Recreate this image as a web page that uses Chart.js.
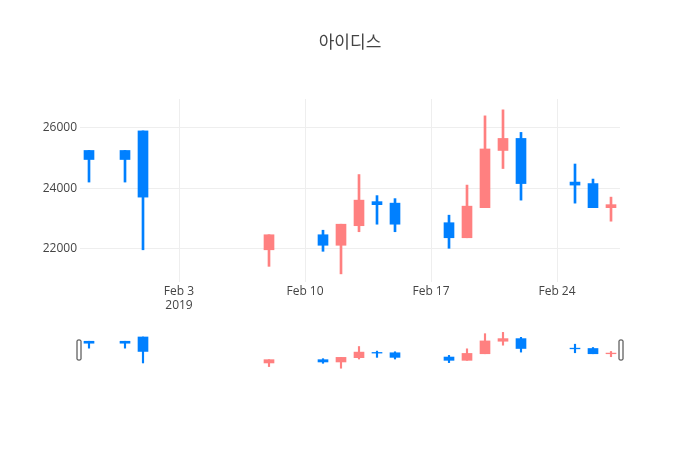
<!DOCTYPE html>
<html>
<head>
<meta charset="utf-8">
<script src="https://cdn.jsdelivr.net/npm/chart.js@4"></script>
<style>
  body { margin: 0; background: #fff; }
  #wrap { position: relative; width: 700px; height: 450px; }
  #wrap canvas { position: absolute; left: 0; top: 0; }
  #slider { pointer-events: none; }
</style>
</head>
<body>
<div id="wrap">
  <canvas id="main" width="700" height="450"></canvas>
  <canvas id="slider" width="700" height="450"></canvas>
</div>
<script>
const title = "아이디스";
const dates = ["2019-01-29", "2019-01-31", "2019-02-01", "2019-02-08", "2019-02-11", "2019-02-12",
  "2019-02-13", "2019-02-14", "2019-02-15", "2019-02-18", "2019-02-19", "2019-02-20",
  "2019-02-21", "2019-02-22", "2019-02-25", "2019-02-26", "2019-02-27"];
const openVals = [25250, 25250, 25900, 21950, 22450, 22100, 22750, 23550, 23500, 22850, 22350, 23350, 25250, 25650, 24200, 24150, 23350];
const highVals = [25250, 25250, 25900, 22450, 22600, 22800, 24450, 23750, 23650, 23100, 24100, 26400, 26600, 25850, 24800, 24300, 23700];
const lowVals = [24200, 24200, 21950, 21400, 21900, 21150, 22550, 22800, 22550, 22000, 22350, 23350, 24650, 23600, 23500, 23350, 22900];
const closeVals = [24950, 24950, 23700, 22450, 22100, 22800, 23600, 23450, 22800, 22350, 23400, 25300, 25650, 24150, 24100, 23350, 23450];
const tickDates = ["2019-02-03", "2019-02-10", "2019-02-17", "2019-02-24"];
const yTicks = [22000, 24000, 26000];
const yMin = 20880;
const yMax = 26960;

const UP = "#ff8080";
const DOWN = "#0080ff";
const FONT = "'Open Sans', 'Noto Sans CJK KR', sans-serif";
const MONTHS = ["Jan", "Feb", "Mar", "Apr", "May", "Jun", "Jul", "Aug", "Sep", "Oct", "Nov", "Dec"];

const dayNum = (s) => Date.parse(s + "T00:00:00Z") / 86400000;
const xs = dates.map(dayNum);
const colors = openVals.map((o, i) => (closeVals[i] >= o ? UP : DOWN));
const bodies = xs.map((x, i) => ({ x, y: [openVals[i], closeVals[i]] }));
const wicks = xs.map((x, i) => ({ x, y: [lowVals[i], highVals[i]] }));
const xMin = xs[0] - 0.5;
const xMax = xs[xs.length - 1] + 0.5;

function dateLabel(v, first) {
  const d = new Date(v * 86400000);
  const lbl = MONTHS[d.getUTCMonth()] + " " + d.getUTCDate();
  return first ? [lbl, String(d.getUTCFullYear())] : lbl;
}

const titlePlugin = {
  id: "plotTitle",
  afterDraw(chart) {
    const ctx = chart.ctx;
    ctx.save();
    ctx.font = "17px " + FONT;
    ctx.fillStyle = "#444";
    ctx.textAlign = "center";
    ctx.textBaseline = "middle";
    ctx.fillText(title, 350, 43);
    ctx.restore();
  },
};

new Chart(document.getElementById("main"), {
  type: "bar",
  data: {
    datasets: [
      { data: bodies, backgroundColor: colors, barThickness: 10, grouped: false, borderWidth: 0 },
      { data: wicks, backgroundColor: colors, barThickness: 2, grouped: false, borderWidth: 0 },
    ],
  },
  options: {
    responsive: false,
    animation: false,
    layout: { padding: { left: 0, right: 80, top: 99, bottom: 138 } },
    plugins: { legend: { display: false }, tooltip: { enabled: false } },
    scales: {
      x: {
        type: "linear",
        min: xMin,
        max: xMax,
        offset: false,
        afterBuildTicks: (scale) => {
          scale.ticks = tickDates.map((d) => ({ value: dayNum(d) }));
        },
        afterFit: (scale) => {
          scale.height = 30;
        },
        ticks: {
          padding: 2,
          color: "#444",
          font: { family: FONT, size: 12 },
          maxRotation: 0,
          callback: (v, i) => dateLabel(v, i === 0),
        },
        grid: { color: "#eee", drawTicks: false, offset: false },
        border: { display: false },
      },
      y: {
        min: yMin,
        max: yMax,
        afterBuildTicks: (scale) => {
          scale.ticks = yTicks.map((v) => ({ value: v }));
        },
        afterFit: (scale) => {
          scale.width = 80;
        },
        ticks: {
          padding: 3,
          color: "#444",
          font: { family: FONT, size: 12 },
          callback: (v) => String(v),
        },
        grid: { color: "#eee", drawTicks: false },
        border: { display: false },
      },
    },
  },
  plugins: [titlePlugin],
});

const handlePlugin = {
  id: "sliderHandles",
  afterDraw(chart) {
    const { ctx, chartArea } = chart;
    const mid = (chartArea.top + chartArea.bottom) / 2;
    ctx.save();
    ctx.fillStyle = "#fff";
    ctx.strokeStyle = "#333";
    ctx.lineWidth = 1;
    [chartArea.left - 1, chartArea.right + 1].forEach((cx) => {
      ctx.beginPath();
      ctx.roundRect(cx - 2, mid - 10, 4, 20, 1);
      ctx.fill();
      ctx.stroke();
    });
    ctx.restore();
  },
};

new Chart(document.getElementById("slider"), {
  type: "bar",
  data: {
    datasets: [
      { data: bodies, backgroundColor: colors, barThickness: 10, grouped: false, borderWidth: 0 },
      { data: wicks, backgroundColor: colors, barThickness: 1.5, grouped: false, borderWidth: 0 },
    ],
  },
  options: {
    responsive: false,
    animation: false,
    layout: { padding: { left: 80, right: 80, top: 330, bottom: 80 } },
    plugins: { legend: { display: false }, tooltip: { enabled: false } },
    scales: {
      x: { type: "linear", min: xMin, max: xMax, display: false, offset: false },
      y: { min: yMin, max: yMax, display: false },
    },
  },
  plugins: [handlePlugin],
});
</script>
</body>
</html>
